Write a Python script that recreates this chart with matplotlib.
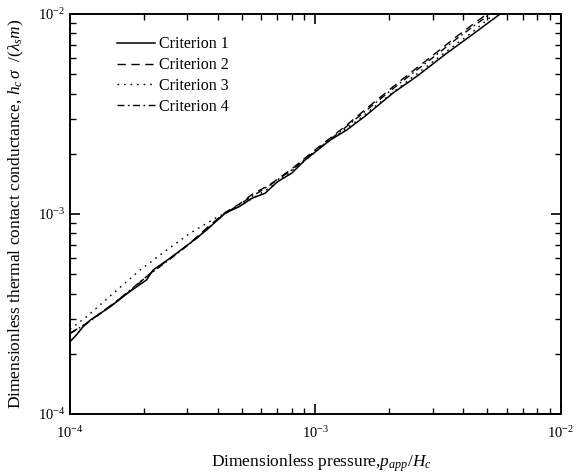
import numpy as np
import matplotlib
matplotlib.use('Agg')
import matplotlib.pyplot as plt

# Times-like fonts for text and math
plt.rcParams['font.family'] = ['Liberation Serif', 'DejaVu Serif']
plt.rcParams['mathtext.fontset'] = 'custom'
plt.rcParams['mathtext.rm'] = 'Liberation Serif'
plt.rcParams['mathtext.it'] = 'Liberation Serif:italic'
plt.rcParams['mathtext.bf'] = 'Liberation Serif:bold'
plt.rcParams['axes.unicode_minus'] = False

# Criterion 1 (solid)
x1 = [1.00e-4, 1.06e-4, 1.13e-4, 1.21e-4, 1.46e-4, 1.75e-4, 2.05e-4, 2.18e-4, 2.55e-4,
      3.08e-4, 3.60e-4, 4.28e-4, 4.9e-4, 5.5e-4, 6.23e-4, 7.0e-4, 8.0e-4, 9.06e-4,
      1.146e-3, 1.34e-3, 1.6e-3, 2.07e-3, 2.6e-3, 3.42e-3, 4.3e-3, 5.65e-3]
y1 = [2.30e-4, 2.48e-4, 2.73e-4, 2.95e-4, 3.44e-4, 4.09e-4, 4.68e-4, 5.25e-4, 6.0e-4,
      7.14e-4, 8.32e-4, 1.008e-3, 1.09e-3, 1.198e-3, 1.27e-3, 1.45e-3, 1.60e-3, 1.86e-3,
      2.34e-3, 2.63e-3, 3.1e-3, 4.03e-3, 4.9e-3, 6.36e-3, 7.8e-3, 1.0e-2]

# Criterion 2 (dashed)
x2 = [1e-4, 1.15e-4, 1.4e-4, 1.75e-4, 2.1e-4, 2.6e-4, 3.1e-4, 3.6e-4, 4.3e-4, 5.0e-4,
      5.5e-4, 6.5e-4, 8.0e-4, 1.0e-3, 1.3e-3, 1.7e-3, 2.2e-3, 2.9e-3, 3.8e-3, 4.99e-3]
y2 = [2.54e-4, 2.80e-4, 3.35e-4, 4.1e-4, 5.0e-4, 6.1e-4, 7.2e-4, 8.5e-4, 1.02e-3, 1.14e-3,
      1.25e-3, 1.4e-3, 1.68e-3, 2.1e-3, 2.7e-3, 3.55e-3, 4.6e-3, 6.0e-3, 7.8e-3, 1.0e-2]

# Criterion 3 (dotted)
x3 = [1e-4, 1.17e-4, 1.5e-4, 1.93e-4, 2.48e-4, 3.08e-4, 3.9e-4, 5.0e-4, 6.5e-4, 8.5e-4,
      1.1e-3, 1.5e-3, 2.0e-3, 2.7e-3, 3.5e-3, 4.4e-3, 5.35e-3]
y3 = [2.65e-4, 3.07e-4, 4.01e-4, 5.25e-4, 6.61e-4, 8.01e-4, 9.52e-4, 1.11e-3, 1.35e-3, 1.74e-3,
      2.25e-3, 2.97e-3, 3.93e-3, 5.22e-3, 6.65e-3, 8.2e-3, 1.0e-2]

# Criterion 4 (dash-dot)
x4 = [1e-4, 1.2e-4, 1.5e-4, 2.0e-4, 2.6e-4, 3.3e-4, 4.2e-4, 5.2e-4, 6.5e-4, 8.0e-4,
      1.0e-3, 1.3e-3, 1.7e-3, 2.2e-3, 2.9e-3, 3.8e-3, 5.14e-3]
y4 = [2.52e-4, 2.90e-4, 3.55e-4, 4.75e-4, 6.05e-4, 7.6e-4, 9.9e-4, 1.17e-3, 1.39e-3, 1.66e-3,
      2.07e-3, 2.66e-3, 3.48e-3, 4.5e-3, 5.85e-3, 7.6e-3, 1.0e-2]

labels = ['Criterion 1', 'Criterion 2', 'Criterion 3', 'Criterion 4']

fig = plt.figure(figsize=(5.8, 4.75), dpi=100)
ax = fig.add_axes([0.1207, 0.1284, 0.8465, 0.8421])

ax.plot(x1, y1, color='black', lw=1.1, ls='-', label=labels[0])
ax.plot(x2, y2, color='black', lw=1.0, ls=(0, (6, 4)), label=labels[1])
ax.plot(x3, y3, color='black', lw=1.0, ls=(0, (1.2, 3.5)), label=labels[2])
ax.plot(x4, y4, color='black', lw=1.0, ls=(0, (5, 2.5, 1.2, 2.5)), label=labels[3])

ax.set_xscale('log')
ax.set_yscale('log')
ax.set_xlim(1e-4, 1e-2)
ax.set_ylim(1e-4, 1e-2)

ax.tick_params(which='both', direction='in', top=True, right=True, labelsize=10.5)
ax.tick_params(which='major', length=7, width=1.2)
ax.tick_params(which='minor', length=4, width=1.0)
ax.tick_params(axis='x', pad=8)
for s in ax.spines.values():
    s.set_linewidth(1.4)

ax.set_xlabel(r'Dimensionless pressure,$p_{app}/H_c$', fontsize=12.5, labelpad=5)
ax.xaxis.set_label_coords(0.512, -0.095)
ax.set_ylabel(r'Dimensionless thermal contact conductance, $h_c\,\sigma\ \ /(\lambda_s m)$',
              fontsize=12.5, labelpad=8)

ax.legend(loc='upper left', bbox_to_anchor=(0.096, 0.944), frameon=False,
          fontsize=11.5, handlelength=2.4, handletextpad=0.2, labelspacing=0.3,
          borderaxespad=0, borderpad=0)

fig.savefig('out.png', dpi=100)
